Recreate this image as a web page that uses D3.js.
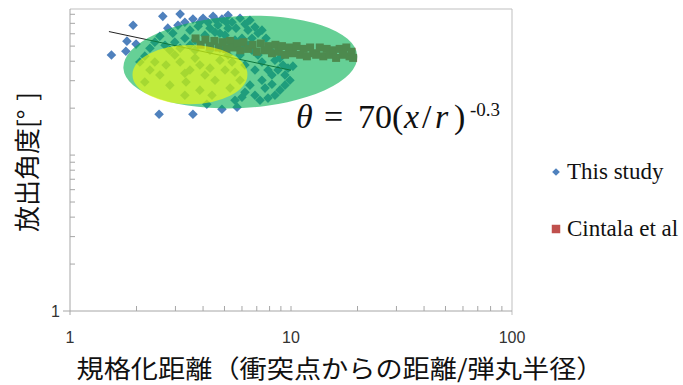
<!DOCTYPE html>
<html>
<head>
<meta charset="utf-8">
<script src="https://cdn.jsdelivr.net/npm/d3@7"></script>
<style>
  body { margin: 0; background: #fff; }
</style>
</head>
<body>
<div id="chart"></div>
<script>
// This study: normalised distance vs ejection angle [deg]
const studyX = [1.54, 1.79, 1.81, 1.93, 1.99, 2.63, 3.15, 3.6, 2.53, 3.6, 4.16, 4.87, 5.7,
  2.55, 2.92, 2.3, 2.18, 2.07, 2.42, 2.69, 2.77, 3.08, 3.31, 3.49, 3.8, 4.0, 4.21, 4.44, 4.67,
  4.87, 5.19, 5.41, 5.64, 5.88, 6.19, 6.52, 6.87, 7.09, 7.39, 7.71, 4.53, 5.03, 4.08, 3.68,
  3.31, 2.98, 5.3, 6.0, 6.39, 6.66, 7.09, 7.39, 7.87, 8.2, 8.73, 9.2, 9.69, 10.2, 9.89, 9.39,
  8.91, 8.46, 7.87, 7.24, 6.87, 7.63, 8.2, 6.52, 6.19, 5.88, 5.58, 6.19, 6.87, 7.39, 8.46,
  8.03, 8.91, 9.39, 5.88, 5.41,
  2.18, 2.72, 3.31, 3.49, 3.35, 2.98, 3.15, 3.68, 3.87, 4.08, 4.3, 4.53, 4.77, 5.03, 3.87,
  4.39, 5.3, 3.31, 2.83, 2.55, 2.42, 3.68, 4.3, 4.77, 2.83, 2.3, 5.19, 5.58, 6.0,
  3.87, 4.3, 4.77, 5.19, 5.58, 6.39, 6.66, 6.13, 3.49, 3.15, 5.1, 4.58];
const studyY = [43.8, 46.4, 53.8, 68.1, 51.5, 77.6, 80.2, 74.5, 18.3, 18.3, 21.2, 19.7, 20.3,
  57.9, 60.5, 48.5, 43.1, 39.5, 53.0, 50.7, 65.2, 68.1, 71.2, 63.3, 67.1, 75.5, 71.2, 77.6, 68.1,
  74.5, 78.9, 71.2, 65.2, 75.5, 69.2, 73.3, 66.2, 60.5, 63.3, 56.2, 61.4, 58.8, 58.8, 54.6,
  56.2, 53.0, 53.0, 56.2, 50.7, 47.1, 43.8, 39.5, 35.1, 32.6, 35.1, 37.8, 36.1, 37.2, 30.2, 28.1,
  26.1, 24.2, 23.2, 22.5, 24.2, 26.9, 28.5, 28.1, 25.3, 30.2, 34.0, 37.8, 35.1, 30.2, 40.6,
  47.1, 41.9, 32.6, 43.8, 39.5,
  29.4, 37.8, 33.5, 35.1, 29.4, 43.8, 39.5, 41.9, 37.8, 32.6, 36.1, 30.2, 40.6, 35.1, 26.1,
  24.2, 26.9, 24.2, 28.1, 32.6, 39.5, 47.1, 47.1, 48.5, 47.1, 35.1, 43.8, 22.5, 23.5,
  71.2, 65.2, 60.5, 65.2, 54.6, 63.3, 56.2, 48.5, 50.7, 48.5, 71.2, 73.3];

// Cintala et al
const cintalaX = [3.7, 3.9, 4.1, 4.3, 4.5, 4.7, 4.9, 5.1, 5.3, 5.5, 5.7, 5.9, 6.1, 6.4, 6.7,
  7.0, 7.3, 7.6, 7.9, 8.2, 8.5, 8.8, 9.1, 9.4, 9.8, 10.2, 10.6, 11.0, 11.4, 11.8, 12.2, 12.6,
  13.0, 13.5, 14.0, 14.5, 15.0, 15.5, 16.0, 16.6, 17.2, 17.8, 18.4, 18.8, 19.1];
const cintalaY = [56, 51, 55, 50, 54, 49, 53, 48, 54, 49, 52, 47, 53, 48, 51,
  46, 52, 47, 50, 45, 51, 46, 50, 44, 49, 45, 50, 44, 48, 43, 49, 45,
  44, 49, 43, 48, 44, 47, 42, 48, 44, 49, 43, 46, 42];

// fitted curve θ = 70(x/r)^-0.3, end points
const trendX = [1.5, 10];
const trendY = [62, 35];

// shaded regions: centre (data units), half axes (decades)
const regionCenterX = [5.9, 3.49];
const regionCenterY = [39.5, 32.8];
const regionHalfX = [0.53, 0.26];
const regionHalfY = [0.295, 0.19];

const xTickLabels = [1, 10, 100];
const yTickLabels = [1];
const seriesNames = ["This study", "Cintala et al"];

// plot config
let width = 683, height = 385;
let blue = "#4f81bd", red = "#c0504d";
let axisColor = "#a6a6a6", frameColor = "#bfbfbf";

let x = d3.scaleLog().domain([1, 100]).range([70, 512]);
let y = d3.scaleLog().domain([1, 86.5]).range([311, 9]);

let svg = d3.select("#chart").append("svg")
  .attr("width", width)
  .attr("height", height);

/* frame and axes */
svg.append("line").attr("x1", x(1)).attr("x2", x(100)).attr("y1", y.range()[1]).attr("y2", y.range()[1])
  .style("stroke", frameColor);
svg.append("line").attr("x1", x(100)).attr("x2", x(100)).attr("y1", y.range()[1]).attr("y2", y(1) + 4)
  .style("stroke", frameColor);
svg.append("line").attr("x1", x(1)).attr("x2", x(1)).attr("y1", y.range()[1]).attr("y2", y(1) + 4)
  .style("stroke", axisColor);
svg.append("line").attr("x1", x(1) - 7).attr("x2", x(100)).attr("y1", y(1)).attr("y2", y(1))
  .style("stroke", axisColor);

let xMinor = [];
let yMinor = [];
[1, 10].forEach(d => {
  for (let k = 2; k <= 9; k++) xMinor.push(k * d);
});
[1, 10].forEach(d => {
  for (let k = 2; k <= 9; k++) if (k * d < 86.5) yMinor.push(k * d);
});
xMinor.push(10);
yMinor.push(10);

svg.selectAll(".xtick").data(xMinor).enter().append("line")
  .attr("class", "xtick")
  .attr("x1", d => x(d)).attr("x2", d => x(d))
  .attr("y1", y(1)).attr("y2", y(1) - 5)
  .style("stroke", axisColor);

svg.selectAll(".ytick").data(yMinor).enter().append("line")
  .attr("class", "ytick")
  .attr("x1", x(1)).attr("x2", x(1) + 5)
  .attr("y1", d => y(d)).attr("y2", d => y(d))
  .style("stroke", axisColor);

svg.selectAll(".xlabel").data(xTickLabels).enter().append("text")
  .attr("class", "xlabel")
  .attr("x", d => x(d)).attr("y", y(1) + 32)
  .style("text-anchor", "middle")
  .style("font-family", "Liberation Sans, Arial, sans-serif")
  .style("font-size", "16px")
  .style("fill", "#333")
  .text(d => d);

svg.selectAll(".ylabel").data(yTickLabels).enter().append("text")
  .attr("class", "ylabel")
  .attr("x", x(1) - 10).attr("y", d => y(d) + 6)
  .style("text-anchor", "end")
  .style("font-family", "Liberation Sans, Arial, sans-serif")
  .style("font-size", "16px")
  .style("fill", "#333")
  .text(d => d);

/* data points */
let diamond = d3.symbol().type(d3.symbolSquare).size(46);
let square = d3.symbol().type(d3.symbolSquare).size(64);

svg.selectAll(".study").data(studyX.map((v, i) => [v, studyY[i]])).enter().append("path")
  .attr("class", "study")
  .attr("d", diamond)
  .attr("transform", d => "translate(" + x(d[0]) + "," + y(d[1]) + ") rotate(45)")
  .style("fill", blue);

svg.selectAll(".cintala").data(cintalaX.map((v, i) => [v, cintalaY[i]])).enter().append("path")
  .attr("class", "cintala")
  .attr("d", square)
  .attr("transform", d => "translate(" + x(d[0]) + "," + y(d[1]) + ")")
  .style("fill", red);

svg.append("path")
  .datum(trendX.map((v, i) => [v, trendY[i]]))
  .attr("d", d3.line().x(d => x(d[0])).y(d => y(d[1])))
  .style("stroke", "#222")
  .style("stroke-width", 1)
  .style("fill", "none");

/* shaded regions */
let regionFill = ["#00b050", "#ffff00"];
let regionRotate = [-3, 0];
regionCenterX.forEach((cxv, i) => {
  let cx = x(cxv), cy = y(regionCenterY[i]);
  let rx = x(cxv * Math.pow(10, regionHalfX[i])) - cx;
  let ry = cy - y(regionCenterY[i] * Math.pow(10, regionHalfY[i]));
  svg.append("ellipse")
    .attr("cx", cx).attr("cy", cy)
    .attr("rx", rx).attr("ry", ry)
    .attr("transform", "rotate(" + regionRotate[i] + "," + cx + "," + cy + ")")
    .style("fill", regionFill[i])
    .style("fill-opacity", 0.6);
});

/* equation */
let eq = svg.append("text")
  .attr("y", 128)
  .style("font-family", "Liberation Serif, Times New Roman, serif")
  .style("font-size", "34px")
  .style("fill", "#111");
eq.append("tspan").attr("x", 296).style("font-style", "italic").text("θ");
eq.append("tspan").attr("x", 324).text("=");
eq.append("tspan").attr("x", 358).text("70(");
eq.append("tspan").attr("x", 404).style("font-style", "italic").text("x");
eq.append("tspan").attr("x", 422).text("/");
eq.append("tspan").attr("x", 435).style("font-style", "italic").text("r");
eq.append("tspan").attr("x", 454).text(")");
eq.append("tspan").attr("x", 470).attr("y", 116).style("font-size", "19px").text("-0.3");

/* legend */
let legend = svg.selectAll(".legend").data(seriesNames).enter().append("g")
  .attr("class", "legend")
  .attr("transform", (d, i) => "translate(556," + (172 + i * 57) + ")");
legend.append("path")
  .attr("d", (d, i) => i === 0 ? d3.symbol().type(d3.symbolSquare).size(30)() : d3.symbol().type(d3.symbolSquare).size(72)())
  .attr("transform", (d, i) => i === 0 ? "rotate(45)" : null)
  .style("fill", (d, i) => i === 0 ? blue : red);
legend.append("text")
  .attr("x", 11).attr("y", 7)
  .style("font-family", "Liberation Serif, Times New Roman, serif")
  .style("font-size", "23px")
  .style("fill", "#111")
  .text(d => d);

/* axis titles */
svg.append("text")
  .attr("x", 340).attr("y", 378)
  .attr("textLength", 527)
  .attr("lengthAdjust", "spacingAndGlyphs")
  .style("text-anchor", "middle")
  .style("font-family", "Noto Sans CJK JP, sans-serif")
  .style("font-size", "25px")
  .style("fill", "#111")
  .text("規格化距離（衝突点からの距離/弾丸半径）");

let yTitle = svg.append("text")
  .attr("transform", "translate(37,162) rotate(-90)")
  .style("text-anchor", "middle")
  .style("font-family", "Noto Sans CJK JP, sans-serif")
  .style("font-size", "26px")
  .style("fill", "#111");
yTitle.append("tspan").text("放出角度[°");
yTitle.append("tspan").attr("dx", 9).text("]");
</script>
</body>
</html>
